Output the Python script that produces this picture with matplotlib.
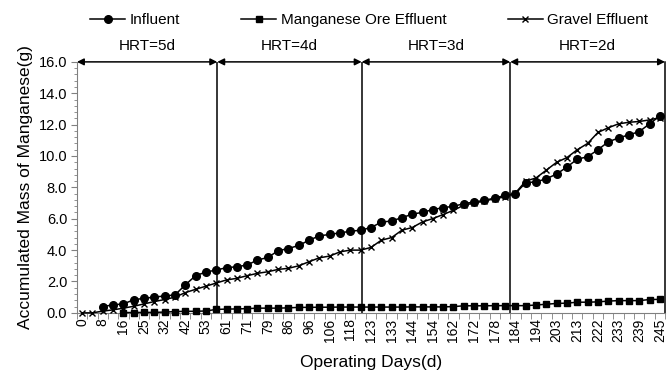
import numpy as np
import matplotlib
matplotlib.use("Agg")
import matplotlib.pyplot as plt
from matplotlib.ticker import MultipleLocator, FormatStrFormatter, FixedLocator

plt.rcParams['font.family'] = ['Liberation Sans', 'DejaVu Sans']

nan = np.nan
# ---- data (one value per sampling category) ----
day_labels = ["0", "8", "16", "25", "32", "42", "53", "61", "71", "79", "86", "96",
              "106", "118", "123", "133", "144", "154", "162", "172", "178", "184",
              "194", "203", "213", "222", "233", "239", "245"]

influent = [nan, nan, 0.40, 0.51, 0.57, 0.83, 0.93, 1.00, 1.08, 1.14,
            1.78, 2.37, 2.60, 2.73, 2.88, 2.94, 3.05, 3.37, 3.53, 3.96,
            4.10, 4.30, 4.63, 4.91, 5.00, 5.10, 5.20, 5.27, 5.44, 5.78,
            5.86, 6.07, 6.29, 6.41, 6.58, 6.71, 6.79, 6.96, 7.07, 7.17,
            7.32, 7.49, 7.60, 8.30, 8.35, 8.55, 8.85, 9.30, 9.80, 9.95,
            10.40, 10.90, 11.15, 11.35, 11.55, 12.05, 12.55]

manganese_ore = [nan, nan, nan, nan, 0.02, 0.02, 0.03, 0.03, 0.05, 0.08,
                 0.10, 0.10, 0.12, 0.22, 0.24, 0.25, 0.27, 0.30, 0.30, 0.30,
                 0.32, 0.35, 0.35, 0.36, 0.36, 0.37, 0.37, 0.37, 0.37, 0.37,
                 0.37, 0.37, 0.38, 0.38, 0.38, 0.38, 0.40, 0.45, 0.45, 0.45,
                 0.46, 0.46, 0.46, 0.46, 0.50, 0.55, 0.60, 0.62, 0.68, 0.68,
                 0.70, 0.75, 0.78, 0.78, 0.78, 0.85, 0.86]

gravel = [0.00, 0.00, 0.11, 0.19, 0.30, 0.42, 0.57, 0.72, 0.85, 1.00,
          1.29, 1.50, 1.70, 1.90, 2.10, 2.20, 2.37, 2.52, 2.62, 2.77,
          2.84, 3.00, 3.26, 3.51, 3.62, 3.89, 4.00, 4.00, 4.17, 4.63,
          4.80, 5.27, 5.44, 5.80, 6.01, 6.27, 6.54, 6.86, 7.00, 7.13,
          7.28, 7.39, 7.64, 8.40, 8.60, 9.10, 9.60, 9.90, 10.40, 10.80,
          11.50, 11.80, 12.05, 12.15, 12.20, 12.30, 12.45]

hrt_labels = ["HRT=5d", "HRT=4d", "HRT=3d", "HRT=2d"]
hrt_bounds = [-0.5, 13.1, 27.1, 41.5, 56.5]   # category positions of HRT changes

# ---- figure ----
fig = plt.figure(figsize=(6.69, 3.82), dpi=100)
ax = fig.add_axes([0.115, 0.181, 0.879, 0.657])

x = np.arange(len(influent))
lw = 1.1
ax.plot(x, influent, color='black', lw=lw, marker='o', ms=5.5, mfc='black',
        mec='black', label='Influent', clip_on=False, zorder=3)
ax.plot(x, manganese_ore, color='black', lw=lw, marker='s', ms=5, mfc='black',
        mec='black', label='Manganese Ore Effluent', clip_on=False, zorder=3)
ax.plot(x, gravel, color='black', lw=lw, marker='x', ms=5, mew=1.0,
        label='Gravel Effluent', clip_on=False, zorder=4)

ax.set_xlim(-0.5, len(influent) - 0.5)
ax.set_ylim(0, 16)

# HRT boundaries and arrows
for b in hrt_bounds[1:-1]:
    ax.plot([b, b], [0, 16], color='black', lw=1.1, zorder=2)
for i, lab in enumerate(hrt_labels):
    b0, b1 = hrt_bounds[i], hrt_bounds[i + 1]
    ax.annotate('', xy=(b1, 16), xytext=(b0, 16),
                arrowprops=dict(arrowstyle='<|-|>', color='black', lw=1.1,
                                shrinkA=0, shrinkB=0, mutation_scale=10),
                annotation_clip=False)
    ax.text((b0 + b1) / 2, 16 + 1.0, lab, ha='center', va='center', fontsize=11,
            clip_on=False)

# spines
ax.spines['top'].set_visible(False)
ax.spines['right'].set_color('black')
ax.spines['right'].set_linewidth(1.1)
ax.spines['left'].set_color('#808080')
ax.spines['bottom'].set_color('#808080')

# y ticks
ax.yaxis.set_major_locator(MultipleLocator(2))
ax.yaxis.set_minor_locator(MultipleLocator(0.4))
ax.yaxis.set_major_formatter(FormatStrFormatter('%.1f'))
ax.tick_params(axis='y', which='major', length=4, color='#808080', labelsize=10.5, pad=3)
ax.tick_params(axis='y', which='minor', length=2.5, color='#808080')

# x ticks
ax.xaxis.set_major_locator(FixedLocator(np.arange(0, len(influent), 2)))
ax.set_xticklabels(day_labels, rotation=90, fontsize=10)
ax.xaxis.set_minor_locator(FixedLocator(np.arange(-0.5, len(influent), 1)))
ax.tick_params(axis='x', which='major', length=0, pad=4)
ax.tick_params(axis='x', which='minor', length=4, color='#808080')

ax.set_xlabel('Operating Days(d)', fontsize=12.5, labelpad=9)
ax.set_ylabel('Accumulated Mass of Manganese(g)', fontsize=12.5, labelpad=4)

fig.legend(loc='center', bbox_to_anchor=(0.552, 0.948), ncol=3, frameon=False,
           fontsize=11, handlelength=2.3, handletextpad=0.3, columnspacing=4.0)

fig.savefig('out.png', dpi=100)
